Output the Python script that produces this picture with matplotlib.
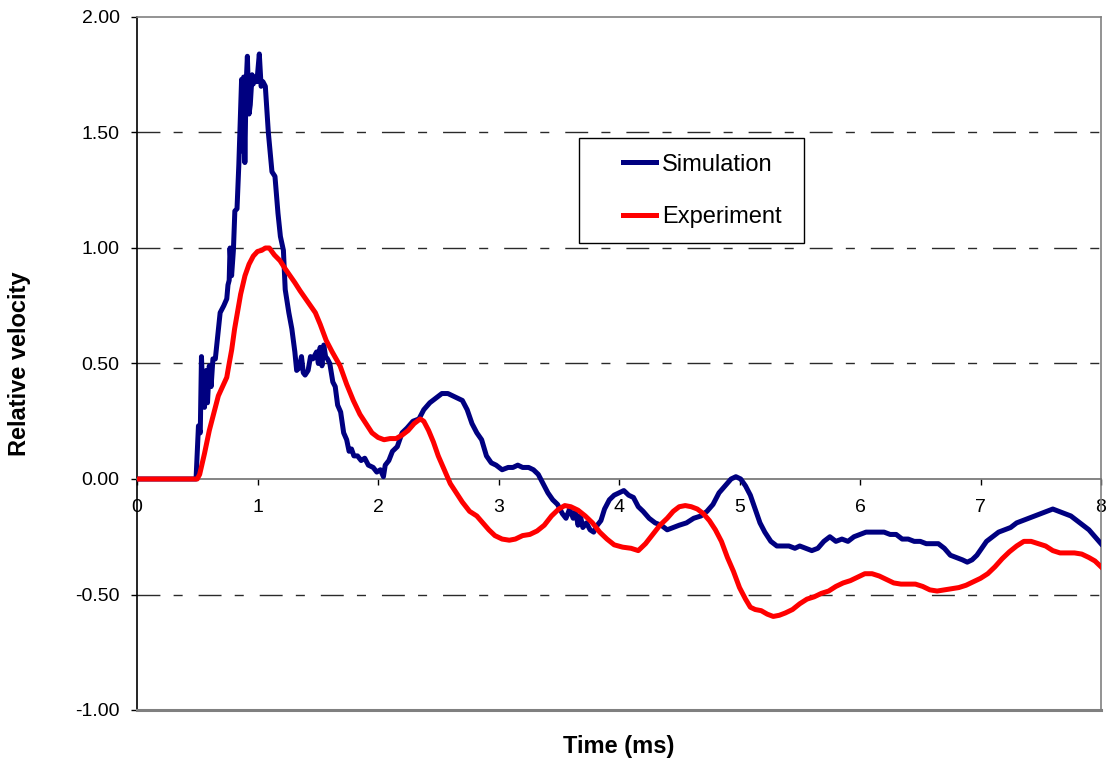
import matplotlib
matplotlib.use("Agg")
import matplotlib.pyplot as plt
from matplotlib.patches import Rectangle

plt.rcParams["font.family"] = ["Liberation Sans", "DejaVu Sans"]

# Simulation trace (time in ms, relative velocity)
sim_time = [
    0.00, 0.49, 0.51, 0.525, 0.535, 0.545, 0.56, 0.575, 0.585, 0.60,
    0.615, 0.63, 0.65, 0.67, 0.69, 0.72, 0.745, 0.755, 0.765, 0.772,
    0.785, 0.80, 0.812, 0.83, 0.845, 0.86, 0.868, 0.875, 0.885, 0.895,
    0.905, 0.916, 0.93, 0.94, 0.955, 0.965, 0.98, 0.995, 1.015, 1.03,
    1.045, 1.065, 1.09, 1.12, 1.145, 1.17, 1.19, 1.215, 1.23, 1.26,
    1.285, 1.31, 1.325, 1.345, 1.365, 1.38, 1.395, 1.42, 1.44, 1.46,
    1.49, 1.505, 1.52, 1.535, 1.55, 1.565, 1.58, 1.60, 1.625, 1.645,
    1.665, 1.69, 1.715, 1.74, 1.76, 1.78, 1.80, 1.83, 1.86, 1.89,
    1.92, 1.96, 1.99, 2.02, 2.045, 2.06, 2.09, 2.12, 2.16, 2.20,
    2.24, 2.29, 2.34, 2.38, 2.43, 2.48, 2.53, 2.58, 2.62, 2.66,
    2.70, 2.74, 2.78, 2.82, 2.86, 2.90, 2.94, 2.98, 3.03, 3.08,
    3.12, 3.16, 3.20, 3.25, 3.29, 3.33, 3.37, 3.41, 3.45, 3.49,
    3.53, 3.56, 3.59, 3.62, 3.64, 3.66, 3.68, 3.70, 3.73, 3.76,
    3.79, 3.82, 3.85, 3.88, 3.92, 3.96, 4.00, 4.04, 4.08, 4.12,
    4.16, 4.20, 4.25, 4.30, 4.35, 4.40, 4.45, 4.50, 4.56, 4.62,
    4.68, 4.73, 4.78, 4.83, 4.88, 4.93, 4.97, 5.01, 5.05, 5.09,
    5.13, 5.17, 5.21, 5.26, 5.31, 5.36, 5.41, 5.46, 5.50, 5.55,
    5.60, 5.65, 5.70, 5.75, 5.80, 5.85, 5.90, 5.95, 6.00, 6.05,
    6.10, 6.15, 6.20, 6.25, 6.30, 6.35, 6.40, 6.45, 6.50, 6.55,
    6.60, 6.65, 6.70, 6.75, 6.80, 6.85, 6.89, 6.93, 6.97, 7.01,
    7.05, 7.10, 7.15, 7.20, 7.25, 7.30, 7.35, 7.40, 7.45, 7.50,
    7.55, 7.60, 7.65, 7.70, 7.75, 7.80, 7.85, 7.90, 7.95, 8.00,
]
sim_value = [
    0.00, 0.00, 0.23, 0.20, 0.53, 0.38, 0.31, 0.47, 0.33, 0.49,
    0.40, 0.52, 0.52, 0.62, 0.72, 0.75, 0.78, 0.84, 0.86, 1.00,
    0.88, 0.99, 1.16, 1.17, 1.36, 1.60, 1.73, 1.42, 1.74, 1.37,
    1.70, 1.83, 1.58, 1.62, 1.75, 1.71, 1.74, 1.72, 1.84, 1.70,
    1.72, 1.70, 1.50, 1.33, 1.31, 1.15, 1.05, 0.99, 0.82, 0.72,
    0.65, 0.55, 0.47, 0.48, 0.53, 0.46, 0.45, 0.47, 0.53, 0.52,
    0.55, 0.50, 0.57, 0.49, 0.58, 0.53, 0.52, 0.50, 0.42, 0.40,
    0.32, 0.29, 0.20, 0.17, 0.12, 0.13, 0.10, 0.10, 0.08, 0.09,
    0.06, 0.05, 0.03, 0.04, 0.01, 0.06, 0.08, 0.12, 0.14, 0.20,
    0.22, 0.25, 0.26, 0.30, 0.33, 0.35, 0.37, 0.37, 0.36, 0.35,
    0.34, 0.30, 0.24, 0.20, 0.17, 0.10, 0.07, 0.06, 0.04, 0.05,
    0.05, 0.06, 0.05, 0.05, 0.04, 0.02, -0.02, -0.06, -0.09, -0.11,
    -0.15, -0.17, -0.13, -0.17, -0.14, -0.20, -0.16, -0.21, -0.19, -0.22,
    -0.23, -0.20, -0.18, -0.13, -0.09, -0.07, -0.06, -0.05, -0.07, -0.08,
    -0.12, -0.14, -0.17, -0.19, -0.20, -0.22, -0.21, -0.20, -0.19, -0.17,
    -0.16, -0.14, -0.11, -0.06, -0.03, 0.00, 0.01, 0.00, -0.03, -0.07,
    -0.13, -0.19, -0.23, -0.27, -0.29, -0.29, -0.29, -0.30, -0.29, -0.30,
    -0.31, -0.30, -0.27, -0.25, -0.27, -0.26, -0.27, -0.25, -0.24, -0.23,
    -0.23, -0.23, -0.23, -0.24, -0.24, -0.26, -0.26, -0.27, -0.27, -0.28,
    -0.28, -0.28, -0.30, -0.33, -0.34, -0.35, -0.36, -0.35, -0.33, -0.30,
    -0.27, -0.25, -0.23, -0.22, -0.21, -0.19, -0.18, -0.17, -0.16, -0.15,
    -0.14, -0.13, -0.14, -0.15, -0.16, -0.18, -0.20, -0.22, -0.25, -0.28,
]

# Experiment trace
exp_time = [
    0.00, 0.50, 0.52, 0.56, 0.60, 0.64, 0.675, 0.71, 0.745, 0.765,
    0.786, 0.81, 0.83, 0.86, 0.896, 0.93, 0.965, 1.00, 1.035, 1.065,
    1.098, 1.14, 1.187, 1.23, 1.27, 1.31, 1.353, 1.40, 1.44, 1.48,
    1.52, 1.57, 1.62, 1.685, 1.74, 1.795, 1.85, 1.906, 1.95, 2.00,
    2.05, 2.10, 2.15, 2.20, 2.25, 2.30, 2.35, 2.38, 2.42, 2.46,
    2.50, 2.55, 2.60, 2.65, 2.70, 2.76, 2.82, 2.87, 2.92, 2.97,
    3.03, 3.09, 3.14, 3.20, 3.26, 3.32, 3.38, 3.44, 3.50, 3.55,
    3.60, 3.66, 3.72, 3.78, 3.84, 3.90, 3.96, 4.03, 4.10, 4.16,
    4.22, 4.28, 4.34, 4.40, 4.45, 4.50, 4.55, 4.60, 4.65, 4.70,
    4.75, 4.80, 4.85, 4.90, 4.95, 5.00, 5.05, 5.09, 5.13, 5.18,
    5.23, 5.28, 5.33, 5.38, 5.44, 5.50, 5.56, 5.62, 5.68, 5.74,
    5.80, 5.86, 5.92, 5.98, 6.04, 6.10, 6.16, 6.22, 6.28, 6.34,
    6.40, 6.46, 6.52, 6.58, 6.64, 6.70, 6.76, 6.82, 6.88, 6.94,
    7.00, 7.06, 7.12, 7.18, 7.24, 7.30, 7.36, 7.42, 7.48, 7.54,
    7.60, 7.66, 7.72, 7.78, 7.84, 7.90, 7.95, 8.00,
]
exp_value = [
    0.00, 0.00, 0.02, 0.11, 0.21, 0.29, 0.36, 0.40, 0.44, 0.50,
    0.56, 0.65, 0.71, 0.80, 0.88, 0.93, 0.965, 0.985, 0.99, 1.00,
    1.00, 0.97, 0.945, 0.91, 0.88, 0.85, 0.815, 0.78, 0.75, 0.72,
    0.67, 0.60, 0.55, 0.49, 0.41, 0.34, 0.28, 0.235, 0.20, 0.18,
    0.17, 0.175, 0.175, 0.19, 0.21, 0.24, 0.26, 0.25, 0.21, 0.16,
    0.10, 0.04, -0.02, -0.06, -0.10, -0.14, -0.16, -0.19, -0.22, -0.245,
    -0.26, -0.265, -0.26, -0.245, -0.24, -0.225, -0.20, -0.16, -0.13, -0.115,
    -0.12, -0.135, -0.16, -0.19, -0.23, -0.26, -0.285, -0.295, -0.30, -0.31,
    -0.28, -0.24, -0.20, -0.17, -0.14, -0.12, -0.115, -0.12, -0.13, -0.15,
    -0.18, -0.22, -0.27, -0.34, -0.40, -0.47, -0.52, -0.555, -0.565, -0.57,
    -0.585, -0.595, -0.59, -0.58, -0.565, -0.54, -0.52, -0.51, -0.495, -0.485,
    -0.465, -0.45, -0.44, -0.425, -0.41, -0.41, -0.42, -0.435, -0.45, -0.455,
    -0.455, -0.455, -0.465, -0.48, -0.485, -0.48, -0.475, -0.47, -0.46, -0.445,
    -0.43, -0.41, -0.38, -0.345, -0.315, -0.29, -0.27, -0.27, -0.28, -0.29,
    -0.31, -0.32, -0.32, -0.32, -0.325, -0.34, -0.355, -0.38,
]

x_ticks = [0, 1, 2, 3, 4, 5, 6, 7, 8]
y_ticks = [-1.0, -0.5, 0.0, 0.5, 1.0, 1.5, 2.0]
grid_levels = [-0.5, 0.5, 1.0, 1.5]

W, H = 1106, 761
fig = plt.figure(figsize=(W / 100, H / 100), dpi=100)
ax = fig.add_axes([137 / W, 1 - 710 / H, 964 / W, 693 / H])

# dash-dot gridlines like the Excel original
for lvl in grid_levels:
    ax.axhline(lvl, color="#2a2a2a", linewidth=1.0, dashes=(16.5, 9.5, 6.5, 11.5), zorder=1)

ax.plot(sim_time, sim_value, color="#000080", linewidth=3.6, label="Simulation", zorder=3)
ax.plot(exp_time, exp_value, color="#ff0000", linewidth=3.6, label="Experiment", zorder=4,
        solid_joinstyle="round")

ax.set_xlim(0, 8)
ax.set_ylim(-1, 2)
ax.set_xticks(x_ticks)
ax.set_yticks(y_ticks)
ax.set_yticklabels([f"{v:.2f}" for v in y_ticks])

# x axis crosses at zero, plot area border in grey
ax.spines["bottom"].set_position(("data", 0))
ax.spines["bottom"].set_color("#707070")
ax.spines["bottom"].set_linewidth(1.2)
ax.spines["left"].set_color("black")
ax.spines["left"].set_linewidth(1.2)
for side in ["top", "right"]:
    ax.spines[side].set_color("#808080")
    ax.spines[side].set_linewidth(1.2)
ax.axhline(-1, color="#808080", linewidth=2.2, zorder=5, clip_on=False)

ax.tick_params(axis="x", direction="out", length=4.5, width=1, pad=10, labelsize=14)
ax.tick_params(axis="y", direction="out", length=4.5, width=1, pad=8, labelsize=14)

ax.set_xlabel("Time (ms)", fontsize=17, fontweight="bold")
ax.xaxis.set_label_coords(0.5, (710 - 746) / 693)
ax.xaxis.label.set_va("center")
ax.set_ylabel("Relative velocity", fontsize=17, fontweight="bold")
ax.yaxis.set_label_coords((20 - 137) / 964, 0.5)
ax.yaxis.label.set_va("center")

# legend with a plain rectangular frame
leg = ax.legend(loc="center left", bbox_to_anchor=(611 / W, 1 - 191 / H),
                bbox_transform=fig.transFigure, frameon=False, fontsize=17,
                borderpad=0, handlelength=1.4, handletextpad=0.25, labelspacing=1.3)
fig.patches.append(Rectangle((579 / W, 1 - 243 / H), 225 / W, 105 / H,
                             transform=fig.transFigure, fill=False,
                             edgecolor="black", linewidth=1.0))

fig.savefig("out.png", dpi=100)
